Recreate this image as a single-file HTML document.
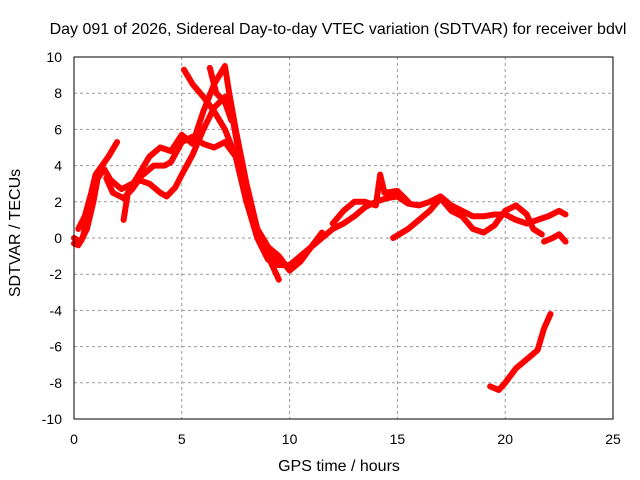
<!DOCTYPE html>
<html><head><meta charset="utf-8"><style>
body{margin:0;background:#fff}
svg{display:block;font-family:"Liberation Sans",sans-serif}
</style></head><body>
<svg id="chart" width="640" height="480">
<rect x="0" y="0" width="640" height="480" fill="#fff"/>
<text x="338" y="34" text-anchor="middle" font-size="16">Day 091 of 2026, Sidereal Day-to-day VTEC variation (SDTVAR) for receiver bdvl</text>
<g id="grid"></g>
<g id="ticks"></g>
<g id="series"></g>
<rect x="74" y="57" width="539" height="362" fill="none" stroke="#000" stroke-width="1"/>
<text x="339" y="471" text-anchor="middle" font-size="16">GPS time / hours</text>
<text x="20" y="233" text-anchor="middle" font-size="16" transform="rotate(-90 20 233)">SDTVAR / TECUs</text>
</svg>
<script>
const xTicks=[0,5,10,15,20,25];
const yTicks=[-10,-8,-6,-4,-2,0,2,4,6,8,10];
const t1=[[0,0],[0.3,-0.2],[0.6,0.5],[0.9,2],[1.1,3.3],[1.4,3.8],[1.7,3.2],[2.2,2.7],[2.7,3],[3.2,3.5],[3.7,4],[4.2,4],[4.5,4.2],[5,5.3],[5.5,5.6],[6,5.2],[6.5,5],[7,5.3],[7.5,4.5],[8,2],[8.5,0],[9,-1.2],[9.5,-1.5],[10,-1.5],[10.5,-1],[11,-0.5],[11.5,0],[12,0.5],[12.5,0.8],[13,1.2],[13.5,1.7],[14,2],[14.5,2.2],[15,2.3],[15.5,1.9],[16,1.8],[16.5,2],[17,2.3],[17.5,1.8],[18,1.5],[18.5,1.2],[19,1.2],[19.5,1.3],[20,1.3],[20.5,1],[21,0.8],[21.5,1],[22,1.2],[22.5,1.5],[22.8,1.3]];
const t2=[[0.2,0.5],[0.5,1.2],[0.8,2.5],[1,3.5],[1.3,4],[1.6,4.5],[2,5.3]];
const t3=[[1.5,3.3],[1.8,2.5],[2.3,2.2],[2.7,2.7],[3,3.2],[3.5,3],[4,2.5],[4.3,2.3],[4.7,2.8],[5,3.5],[5.5,4.6],[6,6],[6.5,7.2],[7,7.8],[7.3,7],[7.6,5],[8,2.5],[8.5,0.5],[9,-0.5],[9.5,-1],[10,-1.8],[10.5,-1.3],[11,-0.5],[11.5,0.3]];
const t4=[[2.3,1],[2.5,2.5],[3,3.5],[3.5,4.5],[4,5],[4.5,4.8],[5,5.7],[5.5,5.2],[6,7],[6.5,8.5],[7,9.5],[7.2,8],[7.5,6],[8,3],[8.5,0.5],[9,-1],[9.5,-2.3]];
const t5=[[5.1,9.3],[5.5,8.5],[6,7.8],[6.5,7],[7,6],[7.5,4.5],[8,2],[8.5,0.5],[9,-0.5],[9.5,-1.5]];
const t6=[[6.3,9.4],[6.6,8],[7,7.5],[7.3,6.5]];
const t7=[[0,-0.3],[0.2,-0.4],[0.4,0],[0.6,1],[0.8,1.8]];
const t8=[[12,0.8],[12.5,1.5],[13,2],[13.5,2],[14,1.8],[14.2,3.5],[14.4,2.5],[15,2.6],[15.5,2]];
const t9=[[14.8,0],[15.5,0.5],[16,1],[16.5,1.5],[17,2.2],[17.5,1.5],[18,1.2],[18.5,0.5],[19,0.3],[19.5,0.7],[20,1.5],[20.5,1.8],[21,1.3],[21.3,0.5],[21.7,0.2]];
const t10=[[21.8,-0.2],[22.2,0],[22.5,0.2],[22.8,-0.2]];
const t11=[[19.3,-8.2],[19.7,-8.4],[20,-8],[20.5,-7.2],[21,-6.7],[21.5,-6.2],[21.8,-5],[22.1,-4.2]];
const tracks=[t1,t2,t3,t4,t5,t6,t7,t8,t9,t10,t11];
const X0=74,X1=613,Y0=419,Y1=57;
const xs=h=>X0+(h-0)/(25-0)*(X1-X0);
const ys=v=>Y0-(v+10)/20*(Y0-Y1);
const NS="http://www.w3.org/2000/svg";
const grid=document.getElementById('grid'),tk=document.getElementById('ticks'),ser=document.getElementById('series');
xTicks.forEach(t=>{
 if(t>0&&t<25){const l=document.createElementNS(NS,'line');l.setAttribute('x1',xs(t));l.setAttribute('x2',xs(t));l.setAttribute('y1',Y1);l.setAttribute('y2',Y0);l.setAttribute('stroke','#999');l.setAttribute('stroke-dasharray','3,3');
 
 grid.appendChild(l);}
 const s=document.createElementNS(NS,'text');s.setAttribute('x',xs(t));s.setAttribute('y',444);s.setAttribute('text-anchor','middle');s.setAttribute('font-size','14');s.textContent=t;
 
 tk.appendChild(s);
});
yTicks.forEach(t=>{
 if(t>-10&&t<10){const l=document.createElementNS(NS,'line');l.setAttribute('x1',X0);l.setAttribute('x2',X1);l.setAttribute('y1',ys(t));l.setAttribute('y2',ys(t));l.setAttribute('stroke','#999');l.setAttribute('stroke-dasharray','3,3');
 
 grid.appendChild(l);}
 const s=document.createElementNS(NS,'text');s.setAttribute('x',62);s.setAttribute('y',ys(t)+5);s.setAttribute('text-anchor','end');s.setAttribute('font-size','14');s.textContent=t;
 
 tk.appendChild(s);
});
tracks.forEach(tr=>{
 const p=document.createElementNS(NS,'polyline');
 p.setAttribute('points',tr.map(d=>xs(d[0])+','+ys(d[1])).join(' '));
 p.setAttribute('fill','none');p.setAttribute('stroke','#f00');p.setAttribute('stroke-width','6');p.setAttribute('stroke-linejoin','round');p.setAttribute('stroke-linecap','round');
 
 
 ser.appendChild(p);
});
</script>
</body></html>
